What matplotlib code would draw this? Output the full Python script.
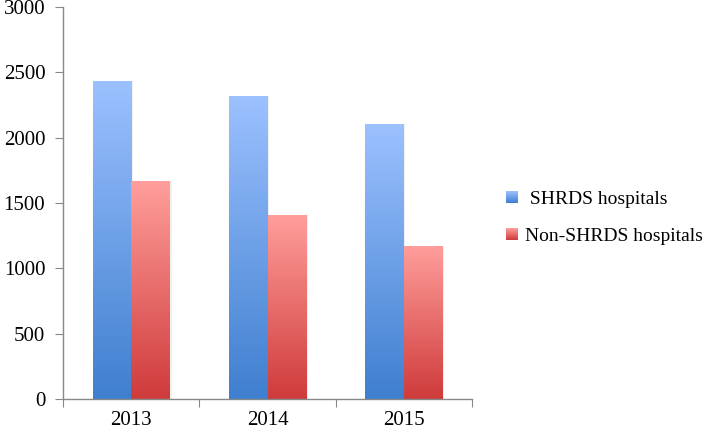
import numpy as np
import matplotlib
matplotlib.use("Agg")
import matplotlib.pyplot as plt
from matplotlib.colors import LinearSegmentedColormap
from matplotlib.legend_handler import HandlerBase
from matplotlib.image import BboxImage
from matplotlib.transforms import Bbox, TransformedBbox
from matplotlib.patches import Patch

years = ["2013", "2014", "2015"]
shrds = [2436, 2316, 2104]
non_shrds = [1668, 1408, 1171]
series_names = ["SHRDS hospitals", "Non-SHRDS hospitals"]
y_ticks = [0, 500, 1000, 1500, 2000, 2500, 3000]

plt.rcParams['font.family'] = ['Liberation Serif', 'DejaVu Serif']

blue_cmap = LinearSegmentedColormap.from_list("b", ["#3f7fcf", "#9cc1ff"])
red_cmap = LinearSegmentedColormap.from_list("r", ["#cf3b3b", "#ff9e9b"])

fig = plt.figure(figsize=(7.09, 4.32), dpi=100)
ax = fig.add_axes([0.0893, 0.0764, 0.5760, 0.9074])

x = np.arange(len(years))
w = 0.285
grad = np.linspace(0, 1, 256).reshape(-1, 1)

def grad_bars(xpos, vals, cmap):
    bars = ax.bar(xpos, vals, width=w, color="none", edgecolor="none")
    for b in bars:
        x0, y0 = b.get_x(), b.get_y()
        x1, y1 = x0 + b.get_width(), y0 + b.get_height()
        # subtle shadow
        ax.bar(x0 + b.get_width() / 2 + 0.012, b.get_height(), width=w, bottom=0,
               color="#000000", alpha=0.06, edgecolor="none", zorder=1)
        im = ax.imshow(grad, extent=[x0, x1, y0, y1], origin="lower", cmap=cmap,
                       aspect="auto", zorder=2, interpolation="bilinear")
        im.set_clip_path(b)
    return bars

grad_bars(x - w / 2, shrds, blue_cmap)
grad_bars(x + w / 2, non_shrds, red_cmap)

ax.set_xlim(-0.5, len(years) - 0.5)
ax.set_ylim(0, 3000)
ax.set_yticks(y_ticks)
ax.set_yticklabels([str(t) for t in y_ticks], fontsize=15)
ax.set_xticks(np.arange(-0.5, len(years), 1.0))
ax.set_xticklabels([])
ax.set_xticks(x, minor=True)
ax.set_xticklabels(years, minor=True, fontsize=15)
ax.tick_params(axis="x", which="minor", length=0, pad=9)
ax.tick_params(axis="x", which="major", length=6, color="#888888", direction="out")
ax.tick_params(axis="y", length=6, color="#888888", direction="out", pad=7)
for s in ["top", "right"]:
    ax.spines[s].set_visible(False)
for s in ["left", "bottom"]:
    ax.spines[s].set_color("#888888")
    ax.spines[s].set_linewidth(1.0)


class GradHandler(HandlerBase):
    def __init__(self, cmap):
        super().__init__()
        self.cmap = cmap

    def create_artists(self, legend, orig_handle, xdescent, ydescent, width,
                       height, fontsize, trans):
        s = height * 0.85
        bb = Bbox.from_bounds(-xdescent + (width - s) / 2, -ydescent + (height - s) / 2, s, s)
        img = BboxImage(TransformedBbox(bb, trans), cmap=self.cmap,
                        interpolation="bilinear", origin="lower")
        img.set_data(grad)
        return [img]


h1 = Patch(label=series_names[0])
h2 = Patch(label=series_names[1])
leg = fig.legend([h1, h2], [" " + series_names[0], series_names[1]],
                 loc="center left", bbox_to_anchor=(0.692, 0.497), frameon=False,
                 fontsize=14, handlelength=0.75, handletextpad=0.3,
                 labelspacing=1.0, borderpad=0.2,
                 handler_map={h1: GradHandler(blue_cmap), h2: GradHandler(red_cmap)})

fig.savefig("out.png", dpi=100)
